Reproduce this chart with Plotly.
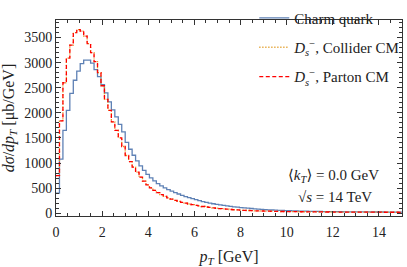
import plotly.graph_objects as go

BIN_WIDTH = 0.15

charm_quark = [
    400, 1080, 1650, 2050, 2390, 2650, 2830, 2980, 3050, 3050,
    2990, 2860, 2720, 2560, 2400, 2220, 2060, 1920, 1770, 1620,
    1410, 1275, 1155, 1045, 945, 855, 775, 705, 645, 590,
    545, 505, 470, 440, 410, 383, 357, 333, 310, 290,
    270, 250, 232, 216, 202, 189, 177, 166, 155, 145,
    136, 128, 120, 113, 106, 100, 94, 88, 83, 78,
    73, 69, 65, 62, 59, 56, 53, 50, 48, 46,
    44, 42, 40.5, 39, 37.5, 36.2, 35, 34, 33, 32,
    31.2, 30.4, 29.7, 29, 28.4, 27.8, 27.3, 26.8, 26.4, 26,
    25.6, 25.2, 24.9, 24.6, 24.3, 24, 23.8, 23.6, 23.4, 23.2,
]

ds_parton = [
    750, 1840, 2600, 3090, 3350, 3600, 3660, 3630, 3530, 3380,
    3200, 3020, 2800, 2540, 2270, 2050, 1820, 1650, 1500, 1330,
    1150, 1030, 920, 820, 720, 640, 565, 505, 455, 410,
    370, 335, 305, 280, 257, 236, 217, 200, 184, 170,
    157, 145, 134, 124, 115, 107, 99, 92, 86, 80,
    75, 70, 66, 62, 58, 55, 52, 49, 47, 45,
    43, 41, 39.5, 38, 36.5, 35, 34, 33, 32, 31,
    30, 29.2, 28.5, 27.8, 27.1, 26.5, 26, 25.4, 24.9, 24.4,
    24, 23.6, 23.2, 22.8, 22.5, 22.2, 21.9, 21.6, 21.3, 21.1,
    20.9, 20.7, 20.5, 20.3, 20.1, 20, 19.8, 19.6, 19.4, 19.2,
]

ds_collider = list(ds_parton)

series_names = [
    "Charm quark",
    "<i>D</i><sub><i>s</i></sub><sup>−</sup>, Collider CM",
    "<i>D</i><sub><i>s</i></sub><sup>−</sup>, Parton CM",
]


def step_xy(vals):
    xs = [i * BIN_WIDTH for i in range(len(vals))] + [len(vals) * BIN_WIDTH]
    ys = list(vals) + [vals[-1]]
    return xs, ys


FONT = "Times New Roman, Liberation Serif, DejaVu Serif, serif"
TXT = "#222"
ML, MR, MT, MB = 56, 2, 2, 51
W, H = 407, 267
plot_w = W - ML - MR
plot_h = H - MT - MB


def px_x(px):
    return (px - ML) / plot_w


def px_y(py):
    return (H - MB - py) / plot_h


fig = go.Figure()

legend_rows = [11, 43, 75]
for name, vals, color, dash, lg in [
    (series_names[0], charm_quark, "#5e81b5", "solid", "legend"),
    (series_names[1], ds_collider, "#e19c24", "1.2px,1.8px", "legend2"),
    (series_names[2], ds_parton, "#ff0000", "4px,2.5px", "legend3"),
]:
    xs, ys = step_xy(vals)
    fig.add_trace(go.Scatter(
        x=xs, y=ys, mode="lines", name=name, legend=lg,
        line=dict(color=color, dash=dash, width=1.3, shape="hv"),
    ))

axis_common = dict(
    showline=True, linecolor="#333", linewidth=1, mirror="allticks",
    ticks="inside", ticklen=5, tickcolor="#333", tickwidth=1,
    showgrid=False, zeroline=False, automargin=False,
    tickfont=dict(family=FONT, size=14, color=TXT),
)


def legend_at(row_y):
    return dict(
        x=px_x(256), y=px_y(row_y - 11), xanchor="left", yanchor="middle",
        bgcolor="rgba(0,0,0,0)",
        font=dict(family=FONT, size=15, color=TXT),
        itemwidth=30,
    )


fig.update_layout(
    width=W, height=H,
    margin=dict(l=ML, r=MR, t=MT, b=MB),
    paper_bgcolor="white", plot_bgcolor="white",
    font=dict(family=FONT, size=14, color=TXT),
    showlegend=True,
    legend=legend_at(legend_rows[0]),
    legend2=legend_at(legend_rows[1]),
    legend3=legend_at(legend_rows[2]),
    xaxis=dict(
        range=[0, 15], tickvals=[0, 2, 4, 6, 8, 10, 12, 14],
        minor=dict(ticks="inside", dtick=0.5, ticklen=3, tickcolor="#333"),
        ticklabelstandoff=3,
        title=dict(text="<i>p</i><sub><i>T</i></sub> [GeV]", standoff=12,
                   font=dict(family=FONT, size=16, color=TXT)),
        **axis_common,
    ),
    yaxis=dict(
        range=[-55, 3850], tickvals=[0, 500, 1000, 1500, 2000, 2500, 3000, 3500],
        minor=dict(ticks="inside", dtick=100, ticklen=3, tickcolor="#333"),
        title=dict(text="<i>dσ</i>/<i>dp</i><sub><i>T</i></sub> [μb/GeV]", standoff=8,
                   font=dict(family=FONT, size=16, color=TXT)),
        **axis_common,
    ),
    annotations=[
        dict(x=px_x(336), y=px_y(172), xref="paper", yref="paper",
             xanchor="center", yanchor="middle",
             showarrow=False, text="⟨<i>k</i><sub><i>T</i></sub>⟩ = 0.0 GeV",
             font=dict(family=FONT, size=15, color=TXT)),
        dict(x=px_x(337), y=px_y(195), xref="paper", yref="paper",
             xanchor="center", yanchor="middle", showarrow=False,
             text="√<i>s</i> = 14 TeV",
             font=dict(family=FONT, size=15, color=TXT)),
    ],
)

fig.write_html(
    "out.html",
    config={"displayModeBar": False},
    post_script="document.body.style.margin='0';document.body.style.overflow='hidden';",
)
